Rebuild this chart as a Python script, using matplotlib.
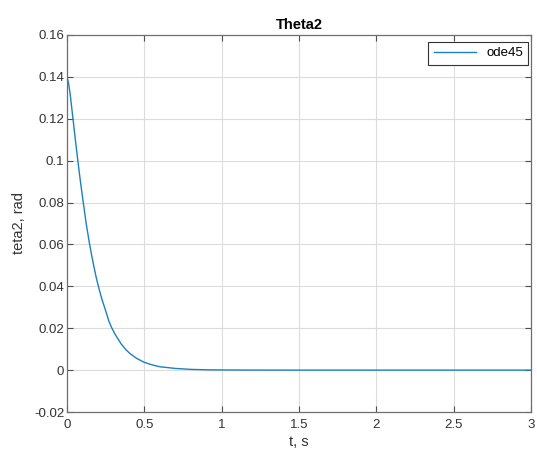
import numpy as np
import matplotlib.pyplot as plt

plt.rcParams['font.family'] = ['Liberation Sans', 'DejaVu Sans']

# Theta2 response (ode45 solution)
t = [0, 0.01, 0.02, 0.037, 0.05, 0.065, 0.085, 0.104, 0.125, 0.145, 0.16, 0.175,
     0.19, 0.207, 0.225, 0.25, 0.27, 0.287, 0.31, 0.35, 0.38, 0.407, 0.45, 0.5,
     0.55, 0.6, 0.7, 0.8, 0.9, 1.0, 1.2, 1.5, 2.0, 2.5, 3.0]
theta2 = [0.14, 0.137, 0.132, 0.121, 0.1125, 0.103, 0.091, 0.0805, 0.0695, 0.0605,
          0.0545, 0.049, 0.0438, 0.0388, 0.034, 0.0283, 0.0235, 0.0205, 0.0172,
          0.0125, 0.0098, 0.0079, 0.0056, 0.0037, 0.0025, 0.0016, 0.0008, 0.00035,
          0.00015, 0.00007, 0.00002, 0, 0, 0, 0]

xticks = [0, 0.5, 1, 1.5, 2, 2.5, 3]
yticks = [-0.02, 0, 0.02, 0.04, 0.06, 0.08, 0.1, 0.12, 0.14, 0.16]
ytick_labels = ['-0.02', '0', '0.02', '0.04', '0.06', '0.08', '0.1', '0.12', '0.14', '0.16']

fig = plt.figure(figsize=(5.37, 4.54), dpi=100)
ax = fig.add_axes([0.1248, 0.0925, 0.8642, 0.8305])

ax.plot(t, theta2, color='#1a80c4', lw=1.0, label='ode45')

ax.set_xlim(0, 3)
ax.set_ylim(-0.02, 0.16)
ax.set_xticks(xticks)
ax.set_xticklabels([f'{x:g}' for x in xticks])
ax.set_yticks(yticks)
ax.set_yticklabels(ytick_labels)

ax.grid(True, color='#dcdcdc', lw=0.8)
ax.set_axisbelow(True)
for s in ax.spines.values():
    s.set_color('#6e6e6e')
    s.set_linewidth(0.9)
ax.tick_params(direction='in', top=True, right=True, length=4, width=0.8,
               color='#4d4d4d', labelsize=9.5, labelcolor='#333333', pad=2)
ax.tick_params(axis='x', pad=5)

ax.set_title('Theta2', fontsize=10.5, fontweight='bold', pad=4)
ax.set_xlabel('t, s', fontsize=10.5, color='#333333', labelpad=3)
ax.set_ylabel('teta2, rad', fontsize=10.5, color='#333333', labelpad=6)

leg = ax.legend(loc='upper right', bbox_to_anchor=(0.994, 0.982), borderaxespad=0,
                fontsize=9.5, fancybox=False, framealpha=1,
                edgecolor='#333333', handlelength=3.2)
leg.get_frame().set_linewidth(0.8)

plt.savefig('out.png', dpi=100)
